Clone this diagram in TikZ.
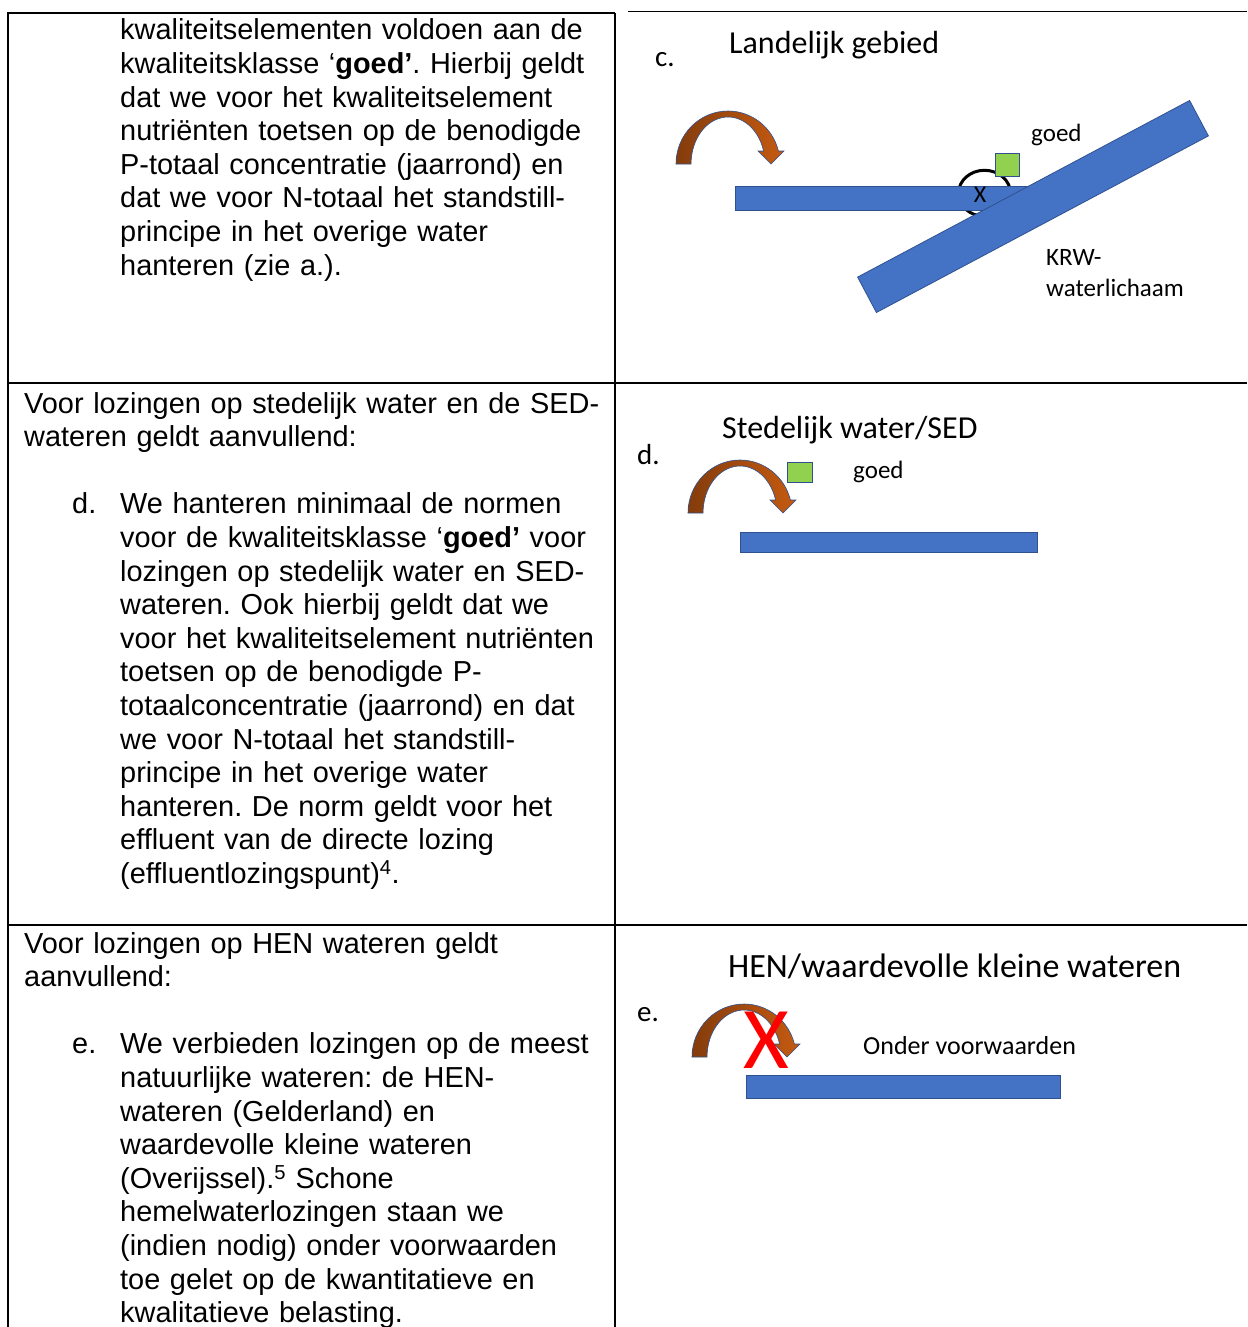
\documentclass[tikz,border=0pt]{standalone}
\usepackage{fontspec}
\setmainfont{Liberation Sans}
\newfontfamily\calibri{Carlito}
\usepackage{xcolor}

\definecolor{barblue}{HTML}{4472C4}
\definecolor{edgeblue}{HTML}{2F528F}
\definecolor{goodgreen}{HTML}{92D050}
\definecolor{rustdark}{HTML}{843C0C}
\definecolor{rustlight}{HTML}{C55A11}
\definecolor{crossred}{HTML}{FF0000}

% curved discharge arrow, foot line centred at #1
\newcommand{\bendarrow}[1]{%
  \begin{scope}[shift={#1}]
    \draw[arrowband] (-52,0) arc[start angle=180,end angle=345.8,x radius=52,y radius=53]
      -- (56,-13) -- (43,0) -- (30,-13) -- (35.6,-13)
      arc[start angle=343.94,end angle=180,x radius=37,y radius=47] -- cycle;
  \end{scope}}

\begin{document}
\frenchspacing
\begin{tikzpicture}[x=1pt,y=-1pt]
  \tikzstyle{para}=[anchor=base west,inner sep=0pt,text width=590pt,align=left,font=\fontsize{28.9}{33.6}\selectfont]
  \tikzstyle{title}=[anchor=base west,inner sep=0pt,font=\calibri\fontsize{32}{38}\selectfont]
  \tikzstyle{tag}=[anchor=base west,inner sep=0pt,font=\calibri\fontsize{29}{35}\selectfont]
  \tikzstyle{lbl}=[anchor=base west,inner sep=0pt,font=\calibri\fontsize{25}{30}\selectfont]
  \tikzstyle{grid}=[line width=1.8pt]
  \tikzstyle{water}=[fill=barblue,draw=edgeblue,line width=0.8pt]
  \tikzstyle{square}=[fill=goodgreen,draw=edgeblue,line width=0.8pt]
  \tikzstyle{ring}=[draw=black,line width=3pt]
  \tikzstyle{arrowband}=[left color=rustdark,right color=rustlight,draw=edgeblue,line width=0.6pt]

  \useasboundingbox (0,0) rectangle (1247,1327);
  \fill[white] (0,0) rectangle (1247,1327);

  % table
  \draw[grid] (8,1327) -- (8,13) -- (615,13);
  \draw[line width=1.2pt] (628,11.5) -- (1247,11.5);
  \draw[grid] (615,13) -- (615,1327);
  \draw[grid] (8,383) -- (1247,383);
  \draw[grid] (8,925) -- (1247,925);

  % left column
  \node[para] (ruraltext) at (120,40) {kwaliteitselementen voldoen aan de\\
    kwaliteitsklasse ‘\textbf{goed’}. Hierbij geldt\\
    dat we voor het kwaliteitselement\\
    nutriënten toetsen op de benodigde\\
    P-totaal concentratie (jaarrond) en\\
    dat we voor N-totaal het standstill-\\
    principe in het overige water\\
    hanteren (zie a.).};

  \node[para] (urbanintro) at (24,413) {Voor lozingen op stedelijk water en de SED-\\
    wateren geldt aanvullend:};
  \node[para] (urbanitem) at (72,513.8) {d.};
  \node[para] (urbantext) at (120,513.8) {We hanteren minimaal de normen\\
    voor de kwaliteitsklasse ‘\textbf{goed’} voor\\
    lozingen op stedelijk water en SED-\\
    wateren. Ook hierbij geldt dat we\\
    voor het kwaliteitselement nutriënten\\
    toetsen op de benodigde P-\\
    totaalconcentratie (jaarrond) en dat\\
    we voor N-totaal het standstill-\\
    principe in het overige water\\
    hanteren. De norm geldt voor het\\
    effluent van de directe lozing\\
    (effluentlozingspunt)\textsuperscript{4}.};

  \node[para] (henintro) at (24,953) {Voor lozingen op HEN wateren geldt\\
    aanvullend:};
  \node[para] (henitem) at (72,1053.8) {e.};
  \node[para] (hentext) at (120,1053.8) {We verbieden lozingen op de meest\\
    natuurlijke wateren: de HEN-\\
    wateren (Gelderland) en\\
    waardevolle kleine wateren\\
    (Overijssel).\textsuperscript{5} Schone\\
    hemelwaterlozingen staan we\\
    (indien nodig) onder voorwaarden\\
    toe gelet op de kwantitatieve en\\
    kwalitatieve belasting.};

  % c. rural area
  \node[title] (ruraltitle) at (729,54) {Landelijk gebied};
  \node[tag] (ruralmark) at (655,67) {c.};
  \bendarrow{(728,164)}
  \draw[ring] (984.5,193.3) ellipse [x radius=26,y radius=23];
  \draw[water] (735,186) rectangle (1030,210);
  \draw[water] (857.6,277.1) -- (876.4,312.5) -- (1208.4,135.9) -- (1189.6,100.5) -- cycle;
  \draw[square] (995,153.3) rectangle (1019,176);
  \node[inner sep=0pt,font=\calibri\fontsize{24}{28}\selectfont] (ruralcross) at (980,195) {X};
  \node[lbl] (ruralgood) at (1031,141) {goed};
  \node[lbl] (krwname) at (1046,265.7) {KRW-};
  \node[lbl] (krwbody) at (1046,296) {waterlichaam};

  % d. urban water
  \node[title] (urbantitle) at (722,438) {Stedelijk water/SED};
  \node[tag] (urbanmark) at (637,464) {d.};
  \bendarrow{(740,513)}
  \draw[square] (787,462) rectangle (812,482);
  \node[lbl] (urbangood) at (853,478) {goed};
  \draw[water] (740,532) rectangle (1037,552);

  % e. HEN waters
  \node[title,font=\calibri\fontsize{34}{40}\selectfont] (hentitle) at (728,977) {HEN/waardevolle kleine wateren};
  \node[tag] (henmark) at (637,1021) {e.};
  \bendarrow{(744,1057)}
  \node[inner sep=0pt,text=crossred,font=\calibri\fontsize{88}{92}\selectfont] (bancross) at (766,1040) {X};
  \node[lbl,font=\calibri\fontsize{26}{31}\selectfont] (henterms) at (863,1054) {Onder voorwaarden};
  \draw[water] (746.7,1075) rectangle (1060.7,1098);
\end{tikzpicture}
\end{document}
